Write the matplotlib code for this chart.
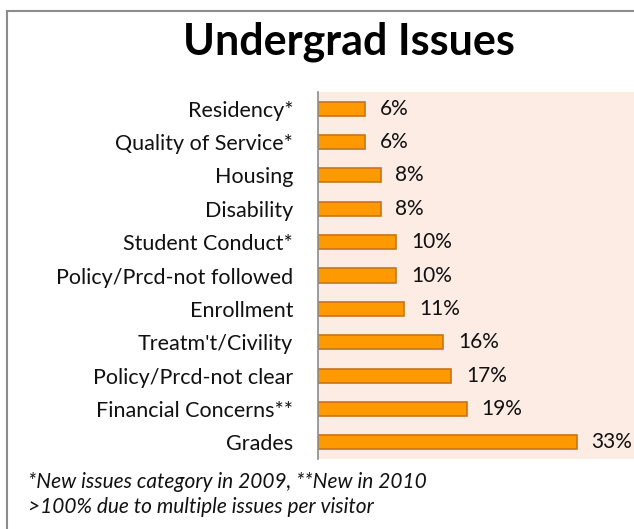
import matplotlib.pyplot as plt
from matplotlib.lines import Line2D

# ===== DATOS =====
categories = [
    "Residency*",
    "Quality of Service*",
    "Housing",
    "Disability",
    "Student Conduct*",
    "Policy/Prcd-not followed",
    "Enrollment",
    "Treatm't/Civility",
    "Policy/Prcd-not clear",
    "Financial Concerns**",
    "Grades",
]
percentages = [6, 6, 8, 8, 10, 10, 11, 16, 17, 19, 33]
title = "Undergrad Issues"
footnotes = [
    "*New issues category in 2009, **New in 2010",
    ">100% due to multiple issues per visitor",
]

plt.rcParams["font.family"] = ["Lato", "DejaVu Sans"]

fig = plt.figure(figsize=(6.34, 5.29), dpi=100)
fig.patch.set_facecolor("white")

# marco gris del grafico
fig.add_artist(Line2D([7 / 634, 7 / 634], [0, 1 - 11 / 529],
                      color="#8c8c8c", lw=1.5, transform=fig.transFigure))
fig.add_artist(Line2D([7 / 634, 1], [1 - 11 / 529, 1 - 11 / 529],
                      color="#8c8c8c", lw=1.5, transform=fig.transFigure))

ax = fig.add_axes([318 / 634, 1 - 459 / 529, 1 - 318 / 634, 367 / 529])
ax.set_facecolor("#fdece4")

y = list(range(len(categories)))
bars = ax.barh(y, percentages, height=0.42, color="#ff9900",
               edgecolor="#c8741a", linewidth=1.2)
ax.bar_label(bars, labels=[f"{p}%" for p in percentages],
             padding=10.5, fontsize=15, color="#111111")

ax.set_xlim(0, 40.3)
ax.set_ylim(len(categories) - 0.5, -0.5)
ax.set_xticks([])
ax.set_yticks(y)
ax.set_yticklabels(categories, fontsize=15.5, color="#111111")
ax.tick_params(axis="y", length=0, pad=18)

for side in ["top", "right", "bottom"]:
    ax.spines[side].set_visible(False)
ax.spines["left"].set_color("#8c8c8c")
ax.spines["left"].set_linewidth(1.2)

fig.text(349 / 634, 1 - 42 / 529, title, ha="center", va="center",
         fontsize=31, fontweight="bold", color="black")

fig.text(28 / 634, 1 - 482 / 529, footnotes[0], ha="left", va="center",
         fontsize=15, style="italic", color="#111111")
fig.text(28 / 634, 1 - 507 / 529, footnotes[1], ha="left", va="center",
         fontsize=15, style="italic", color="#111111")

fig.savefig("out.png", dpi=100)
